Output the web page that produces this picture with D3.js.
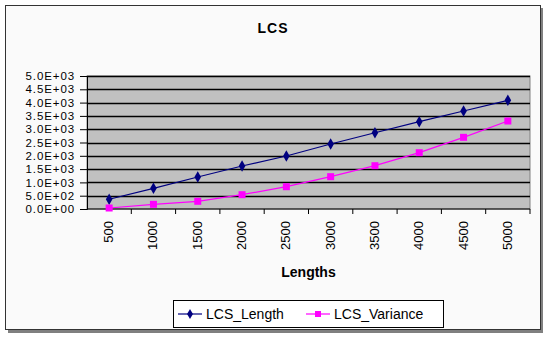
<!DOCTYPE html>
<html>
<head>
<meta charset="utf-8">
<script src="https://cdn.jsdelivr.net/npm/d3@7"></script>
<style>
  body { margin: 0; background: #ffffff; }
  text { font-family: Arial, "Liberation Sans", sans-serif; }
</style>
</head>
<body>
<div id="chart"></div>
<script>
// categorias y series
var lengths = [500, 1000, 1500, 2000, 2500, 3000, 3500, 4000, 4500, 5000];
var lcsLength = [365, 778, 1203, 1617, 1992, 2444, 2868, 3282, 3684, 4086];
var lcsVariance = [38, 176, 289, 538, 838, 1215, 1628, 2117, 2695, 3308];
var yTicks = [0, 500, 1000, 1500, 2000, 2500, 3000, 3500, 4000, 4500, 5000];

var width = 546, height = 337;
var plot = {left: 87, right: 530, top: 76, bottom: 209};

var svg = d3.select("#chart").append("svg")
  .attr("width", width)
  .attr("height", height);

// marco exterior con sombra
svg.append("rect")
  .attr("x", 8).attr("y", 8).attr("width", 535).attr("height", 325)
  .attr("fill", "#808080");
svg.append("rect")
  .attr("x", 5.5).attr("y", 5.5).attr("width", 535).attr("height", 324)
  .attr("fill", "#fafafa").attr("stroke", "#333").attr("stroke-width", 1);

var x = d3.scaleBand()
  .domain(lengths)
  .range([plot.left, plot.right]);

var y = d3.scaleLinear()
  .domain([0, 5000])
  .range([plot.bottom, plot.top]);

// area del grafico
svg.append("rect")
  .attr("x", plot.left).attr("y", plot.top)
  .attr("width", plot.right - plot.left).attr("height", plot.bottom - plot.top)
  .attr("fill", "#c0c0c0").attr("stroke", "#808080");

// lineas de la cuadricula
svg.selectAll(".grid")
  .data(yTicks.slice(1))
  .enter().append("line")
  .attr("x1", plot.left).attr("x2", plot.right)
  .attr("y1", function(d) { return Math.round(y(d)) + 0.5; })
  .attr("y2", function(d) { return Math.round(y(d)) + 0.5; })
  .attr("stroke", "#000").attr("stroke-width", 1.3);

// eje Y
var yAxis = svg.append("g")
  .attr("transform", `translate(${plot.left},0)`)
  .call(d3.axisLeft(y).tickValues(yTicks).tickSize(7).tickPadding(5)
    .tickFormat(function(d) { return d3.format(".1e")(d).replace("e", "E").replace(/E([+-])(\d)$/, "E$10$2"); }));
yAxis.select(".domain").attr("stroke", "#000");
yAxis.selectAll("text")
  .attr("font-size", 11.5)
  .attr("letter-spacing", 0.9)
  .attr("fill", "#000");

// eje X (marcas en los limites de cada categoria)
var xAxis = svg.append("g")
  .attr("transform", `translate(0,${plot.bottom})`);
xAxis.append("line")
  .attr("x1", plot.left).attr("x2", plot.right)
  .attr("stroke", "#000");
xAxis.selectAll(".tk")
  .data(lengths)
  .enter().append("line")
  .attr("x1", function(d) { return x(d) + x.bandwidth(); })
  .attr("x2", function(d) { return x(d) + x.bandwidth(); })
  .attr("y1", 0).attr("y2", 5)
  .attr("stroke", "#000");
xAxis.selectAll(".lbl")
  .data(lengths)
  .enter().append("text")
  .attr("transform", function(d) { return `translate(${x(d) + x.bandwidth() / 2 + 4},12) rotate(-90)`; })
  .attr("text-anchor", "end")
  .attr("font-size", 13)
  .text(function(d) { return d; });

// titulos
svg.append("text")
  .attr("x", 273).attr("y", 33)
  .attr("text-anchor", "middle")
  .attr("font-size", 14).attr("font-weight", "bold")
  .attr("letter-spacing", 1)
  .text("LCS");

svg.append("text")
  .attr("x", (plot.left + plot.right) / 2).attr("y", 277)
  .attr("text-anchor", "middle")
  .attr("font-size", 14).attr("font-weight", "bold")
  .text("Lengths");

// series
var cx = function(d, i) { return x(lengths[i]) + x.bandwidth() / 2; };
var line = d3.line()
  .x(function(d, i) { return cx(d, i); })
  .y(function(d) { return y(d); });

svg.append("path").datum(lcsLength)
  .attr("d", line).attr("fill", "none").attr("stroke", "#000080").attr("stroke-width", 1.2);
svg.append("path").datum(lcsVariance)
  .attr("d", line).attr("fill", "none").attr("stroke", "#ff00ff").attr("stroke-width", 1.2);

svg.selectAll(".dia")
  .data(lcsLength)
  .enter().append("path")
  .attr("transform", function(d, i) { return `translate(${cx(d, i)},${y(d)})`; })
  .attr("d", d3.symbol().type(d3.symbolDiamond).size(38))
  .attr("fill", "#000080");

svg.selectAll(".sq")
  .data(lcsVariance)
  .enter().append("rect")
  .attr("x", function(d, i) { return cx(d, i) - 3.5; })
  .attr("y", function(d) { return y(d) - 3.5; })
  .attr("width", 7).attr("height", 7)
  .attr("fill", "#ff00ff");

// leyenda
var legend = svg.append("g");
legend.append("rect")
  .attr("x", 173.5).attr("y", 300.5).attr("width", 270).attr("height", 27)
  .attr("fill", "#fff").attr("stroke", "#000");

var items = [
  {name: "LCS_Length", color: "#000080", x: 178},
  {name: "LCS_Variance", color: "#ff00ff", x: 306}
];
items.forEach(function(it, k) {
  legend.append("line")
    .attr("x1", it.x).attr("x2", it.x + 24)
    .attr("y1", 314).attr("y2", 314)
    .attr("stroke", it.color).attr("stroke-width", 1.2);
  if (k === 0) {
    legend.append("path")
      .attr("transform", `translate(${it.x + 12},314)`)
      .attr("d", d3.symbol().type(d3.symbolDiamond).size(30))
      .attr("fill", it.color);
  } else {
    legend.append("rect")
      .attr("x", it.x + 9).attr("y", 311).attr("width", 6).attr("height", 6)
      .attr("fill", it.color);
  }
  legend.append("text")
    .attr("x", it.x + 28).attr("y", 319)
    .attr("font-size", 14)
    .text(it.name);
});
</script>
</body>
</html>
